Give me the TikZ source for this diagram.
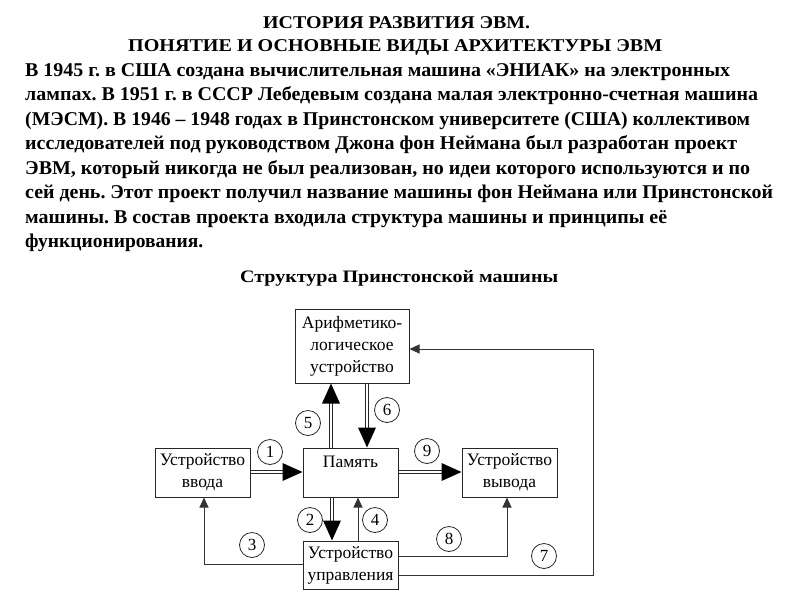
\documentclass[tikz,border=0pt]{standalone}
\usepackage{fontspec}
\setmainfont{Liberation Serif}
\usetikzlibrary{arrows.meta,calc}
\frenchspacing
\tikzset{
  box/.style={draw=black!85, line width=1pt, rectangle, inner sep=0pt, align=center,
    font=\fontsize{17.5}{22}\selectfont},
  num/.style={draw=black!85, line width=0.8pt, circle, minimum size=25pt, inner sep=0pt,
    font=\fontsize{17}{17}\selectfont},
  dblshaft/.style={draw=black!85, line width=1.2pt, double=white, double distance=2pt},
  thin/.style={draw=black!80, line width=1pt, -{Triangle[length=10pt,width=9pt]}},
  txt/.style={inner sep=0pt, anchor=base west},
}
\newcommand{\fitline}[2]{\resizebox{#1}{\height}{#2}}
% big filled tip: #1 = tip point, #2 = rotation (0 right, -90 down, 90 up in flipped y)
\newcommand{\bigtipat}[2]{\fill[black, shift={(#1)}, rotate=#2] (0,0) -- (-20,-9) -- (-20,9) -- cycle;}
\begin{document}
\begin{tikzpicture}[x=1pt,y=-1pt]
\useasboundingbox (0,0) rectangle (800,600);
% Title
\node[txt] (t1) at (263,28.5) {\fontsize{18}{18}\bfseries\fitline{267pt}{ИСТОРИЯ РАЗВИТИЯ ЭВМ.}};
\node[txt] (t2) at (128,51) {\fontsize{18}{18}\bfseries\fitline{534pt}{ПОНЯТИЕ И ОСНОВНЫЕ ВИДЫ АРХИТЕКТУРЫ ЭВМ}};
% Body
\node[txt] (b1) at (25,76) {\fontsize{19.5}{19}\bfseries\fitline{705pt}{В 1945 г. в США создана вычислительная машина «ЭНИАК» на электронных}};
\node[txt] (b2) at (25,100.5) {\fontsize{19.5}{19}\bfseries\fitline{733pt}{лампах. В 1951 г. в СССР Лебедевым создана малая электронно-счетная машина}};
\node[txt] (b3) at (25,125) {\fontsize{19.5}{19}\bfseries\fitline{725pt}{(МЭСМ). В 1946 – 1948 годах в Принстонском университете (США) коллективом}};
\node[txt] (b4) at (25,149.5) {\fontsize{19.5}{19}\bfseries\fitline{712pt}{исследователей под руководством Джона фон Неймана был разработан проект}};
\node[txt] (b5) at (25,174) {\fontsize{19.5}{19}\bfseries\fitline{725pt}{ЭВМ, который никогда не был реализован, но идеи которого используются и по}};
\node[txt] (b6) at (25,198.5) {\fontsize{19.5}{19}\bfseries\fitline{748pt}{сей день. Этот проект получил название машины фон Неймана или Принстонской}};
\node[txt] (b7) at (25,223) {\fontsize{19.5}{19}\bfseries\fitline{642pt}{машины. В состав проекта входила структура машины и принципы её}};
\node[txt] (b8) at (25,247.5) {\fontsize{19.5}{19}\bfseries\fitline{178pt}{функционирования.}};
% Caption
\node[txt] (cap) at (240,282) {\fontsize{17.5}{18}\bfseries\fitline{318pt}{Структура Принстонской машины}};
% Boxes
\node[box, minimum width=114pt, minimum height=74pt] (alu) at (352,346) {Арифметико-\\логическое\\устройство};
\node[box, minimum width=95pt, minimum height=49pt] (inp) at (202.5,472.5) {Устройство\\ввода};
\node[box, minimum width=95pt, minimum height=49pt] (mem) at (350.5,472.5) {Память\\[-8pt]\strut};
\node[box, minimum width=95pt, minimum height=49pt] (out) at (509.5,472.5) {Устройство\\вывода};
\node[box, minimum width=95pt, minimum height=48pt] (ctl) at (350.5,565) {Устройство\\управления};
% Double arrows
% 1: inp -> mem
\path[dblshaft] (inp.east |- 0,472) -- ($(mem.west |- 0,472)+(-18,0)$);
\bigtipat{mem.west |- 0,472}{0}
% 9: mem -> out
\path[dblshaft] (mem.east |- 0,472) -- ($(out.west |- 0,472)+(-18,0)$);
\bigtipat{out.west |- 0,472}{0}
% 5: mem -> alu (up)
\path[dblshaft] (mem.north -| 331,0) -- ($(alu.south -| 331,0)+(0,18)$);
\bigtipat{alu.south -| 331,0}{90}
% 6: alu -> mem (down)
\path[dblshaft] (alu.south -| 367,0) -- ($(mem.north -| 367,0)+(0,-18)$);
\bigtipat{mem.north -| 367,0}{-90}
% 2: mem -> ctl (down)
\path[dblshaft] (mem.south -| 332,0) -- ($(ctl.north -| 332,0)+(0,-18)$);
\bigtipat{ctl.north -| 332,0}{-90}
% Single arrows
% 4: ctl -> mem
\draw[thin] (ctl.north -| 358,0) -- (mem.south -| 358,0);
% 3: ctl -> inp
\draw[thin] (ctl.west |- 0,564) -| (inp.south -| 204,0);
% 8: ctl -> out
\draw[thin] (ctl.east |- 0,556) -| (out.south -| 507,0);
% 7: ctl -> alu
\coordinate (c7) at (593,349);
\draw[thin] (ctl.east |- 0,575) -| (c7) -- (alu.east |- c7);
% Number circles
\node[num] (n1) at (270,452) {1};
\node[num] (n2) at (310,520) {2};
\node[num] (n3) at (252,545) {3};
\node[num] (n4) at (375,520) {4};
\node[num] (n5) at (308,423) {5};
\node[num] (n6) at (387,410) {6};
\node[num] (n7) at (544,556) {7};
\node[num] (n8) at (449,539) {8};
\node[num] (n9) at (427,451) {9};
\end{tikzpicture}
\end{document}
